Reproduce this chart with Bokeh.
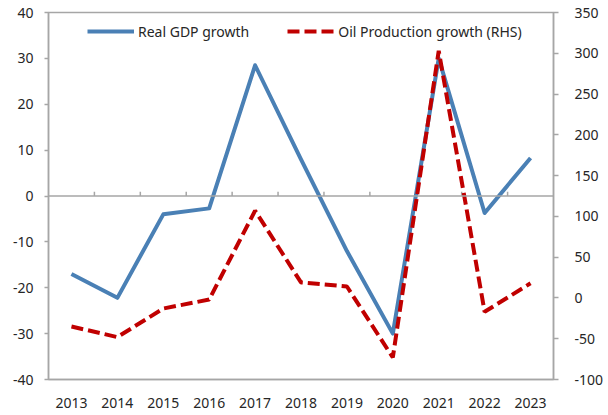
from bokeh.plotting import figure
from bokeh.models import Range1d, LinearAxis, FixedTicker, Span, Legend, LegendItem
from bokeh.embed import file_html
from bokeh.resources import INLINE

years = ["2013", "2014", "2015", "2016", "2017", "2018", "2019", "2020", "2021", "2022", "2023"]
gdp_growth = [-17.0, -22.2, -4.0, -2.7, 28.5, 8.0, -12.0, -30.0, 30.0, -3.7, 8.3]
oil_growth = [-35, -48, -13, -2, 107, 19, 14, -73, 303, -17, 18]
left_ticks = list(range(-40, 41, 10))
right_ticks = list(range(-100, 351, 50))

FONT = "Noto Sans"
FS = "14px"
GRAY = "#a6a6a6"
TXT = "#262626"

x = list(range(len(years)))

p = figure(width=606, height=412, x_range=Range1d(-0.5, len(years) - 0.5),
           y_range=Range1d(left_ticks[0], left_ticks[-1]),
           output_backend="svg", toolbar_location=None,
           min_border_left=48, min_border_right=51, min_border_top=12, min_border_bottom=33)
p.extra_y_ranges = {"oil": Range1d(right_ticks[0], right_ticks[-1])}
p.grid.visible = False
p.outline_line_color = GRAY
p.outline_line_width = 1.5
p.background_fill_color = "white"
p.border_fill_color = "white"

# left axis
ya = p.yaxis[0]
ya.ticker = FixedTicker(ticks=left_ticks)
ya.major_label_overrides = {t: str(t) for t in left_ticks}
ya.axis_line_color = GRAY
ya.axis_line_width = 1.5
ya.major_tick_line_color = GRAY
ya.major_tick_line_width = 1.5
ya.major_tick_out = 4
ya.major_tick_in = 0
ya.minor_tick_line_color = None
ya.major_label_text_font = FONT
ya.major_label_text_font_size = FS
ya.major_label_text_color = TXT
ya.major_label_standoff = 11

# right axis
ra = LinearAxis(y_range_name="oil", ticker=FixedTicker(ticks=right_ticks))
ra.major_label_overrides = {t: str(t) for t in right_ticks}
ra.axis_line_color = GRAY
ra.axis_line_width = 1.5
ra.major_tick_line_color = GRAY
ra.major_tick_line_width = 1.5
ra.major_tick_out = 5
ra.major_tick_in = 0
ra.minor_tick_line_color = None
ra.major_label_text_font = FONT
ra.major_label_text_font_size = FS
ra.major_label_text_color = TXT
ra.major_label_standoff = 16
p.add_layout(ra, "right")

# bottom axis (labels only)
xa = p.xaxis[0]
xa.ticker = FixedTicker(ticks=x)
xa.major_label_overrides = {i: y for i, y in zip(x, years)}
xa.axis_line_color = GRAY
xa.axis_line_width = 1.5
xa.major_tick_line_color = None
xa.minor_tick_line_color = None
xa.major_label_text_font = FONT
xa.major_label_text_font_size = FS
xa.major_label_text_color = TXT
xa.major_label_standoff = 12

# zero line with category boundary ticks
p.add_layout(Span(location=0, dimension="width", line_color=GRAY, line_width=1.5))
bx = [i + 0.5 for i in x[:-1]]
p.segment(x0=bx, y0=[0] * len(bx), x1=bx, y1=[0.9] * len(bx), line_color=GRAY, line_width=1.5)

r1 = p.line(x, gdp_growth, line_color="#4a80b5", line_width=4, line_join="round")
r2 = p.line(x, oil_growth, y_range_name="oil", line_color="#c00000", line_width=4,
            line_dash="12 5")

legend = Legend(items=[LegendItem(label="Real GDP growth", renderers=[r1]),
                       LegendItem(label="Oil Production growth (RHS)", renderers=[r2])],
                orientation="horizontal", location=(39, 338), border_line_color=None,
                background_fill_alpha=0, padding=0, margin=0, spacing=38,
                glyph_width=47, glyph_height=20, label_standoff=4,
                label_text_font=FONT, label_text_font_size=FS, label_text_color=TXT)
p.add_layout(legend)

open("out.html", "w").write(file_html(p, INLINE))
